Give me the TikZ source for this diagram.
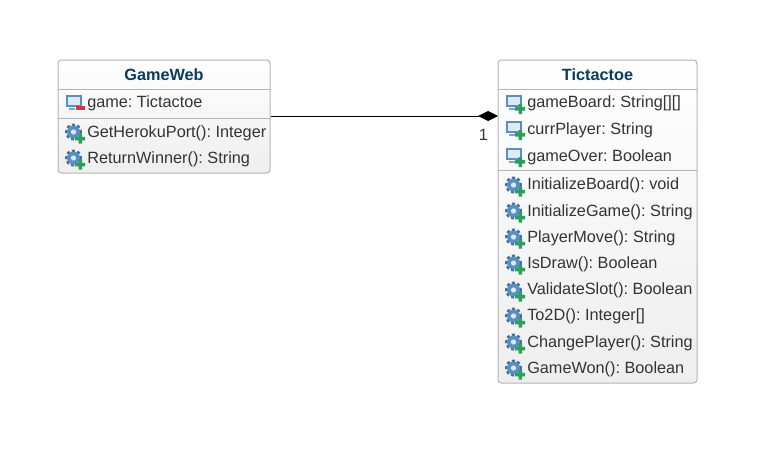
\documentclass[tikz,border=0pt]{standalone}
\usepackage{fontspec}
\setmainfont{Liberation Sans}
\frenchspacing
\usetikzlibrary{arrows.meta,positioning,calc}
\definecolor{Ink}{HTML}{333333}
\definecolor{Title}{HTML}{0A3C5F}
\definecolor{BoxLine}{HTML}{B4B4B4}
\definecolor{BoxEnd}{HTML}{EEEEEE}
\definecolor{IconBlue}{HTML}{5A8FC6}
\definecolor{IconPale}{HTML}{DCEBFA}
\definecolor{PlusGreen}{HTML}{2E9E5B}
\definecolor{MinusRed}{HTML}{D9333F}
\tikzset{
  classbox/.style={draw=BoxLine,line width=0.75pt,rounded corners=2.5pt,top color=white,bottom color=BoxEnd,minimum width=#1,inner sep=0pt},
  classname/.style={font=\fontsize{12.2}{14}\selectfont\bfseries,text=Title,inner sep=0pt},
  member/.style={anchor=west,font=\fontsize{12.2}{14}\selectfont,text=Ink,inner sep=0pt},
  divider/.style={draw=BoxLine,line width=0.6pt},
  pics/attrplus/.style={code={
    \draw[IconBlue,fill=IconPale,line width=1.1pt] (-7,-6) rectangle (7,4);
    \fill[IconBlue!80] (-5,5.5) rectangle (5,7.5);
    \fill[PlusGreen] (4.5,2) rectangle (8,12) (1.2,5.2) rectangle (11.2,8.7);
  }},
  pics/attrminus/.style={code={
    \draw[IconBlue,fill=IconPale,line width=1.1pt] (-7,-6) rectangle (7,4);
    \fill[IconBlue!80] (-5,5.5) rectangle (1,7.5);
    \fill[MinusRed] (2,4.2) rectangle (11,8.2);
  }},
  pics/opplus/.style={code={
    \draw[IconBlue!75!black,line width=2.2pt,dash pattern=on 2.2pt off 1.7pt] (-0.5,0) circle (7);
    \fill[IconBlue] (-0.5,0) circle (6.5);
    \fill[IconPale] (-0.5,0) circle (2.6);
    \fill[PlusGreen] (4.5,1.5) rectangle (8,11.5) (1.2,4.8) rectangle (11.2,8.3);
  }},
}
\begin{document}
\begin{tikzpicture}[x=0.75pt,y=-0.75pt]
\useasboundingbox (0,0) rectangle (764,468);
% classes
\node[classbox=159pt,minimum height=84.75pt,anchor=north west] (gameweb) at (57.5,59.5) {};
\node[classbox=149.25pt,minimum height=242.25pt,anchor=north west] (tictactoe) at (497.5,59.5) {};
\node[classname] (gamewebname) at (164,75) {GameWeb};
\node[classname] (tictactoename) at (597.5,75) {Tictactoe};
\draw[divider] (57.5,89) -- (269.5,89);
\draw[divider] (57.5,118) -- (269.5,118);
\draw[divider] (497.5,89) -- (696.5,89);
\draw[divider] (497.5,170) -- (696.5,170);
% GameWeb members
\pic at (74,102) {attrminus};
\node[member] (game) at (87,103) {game: Tictactoe};
\pic at (74,132) {opplus};
\node[member] (getherokuport) at (87,133) {GetHerokuPort(): Integer};
\pic at (74,158) {opplus};
\node[member] (returnwinner) at (87,159) {ReturnWinner(): String};
% Tictactoe members
\pic at (514,102) {attrplus};
\node[member] (gameboard) at (527,103) {gameBoard: String[][]};
\pic at (514,128) {attrplus};
\node[member] (currplayer) at (527,130) {currPlayer: String};
\pic at (514,155) {attrplus};
\node[member] (gameover) at (527,157) {gameOver: Boolean};
\pic at (514,185) {opplus};
\node[member] (initializeboard) at (527,185) {InitializeBoard(): void};
\pic at (514,211) {opplus};
\node[member] (initializegame) at (527,212) {InitializeGame(): String};
\pic at (514,237) {opplus};
\node[member] (playermove) at (527,238) {PlayerMove(): String};
\pic at (514,263) {opplus};
\node[member] (isdraw) at (527,264) {IsDraw(): Boolean};
\pic at (514,290) {opplus};
\node[member] (validateslot) at (527,290) {ValidateSlot(): Boolean};
\pic at (514,316) {opplus};
\node[member] (todd) at (527,316) {To2D(): Integer[]};
\pic at (514,342) {opplus};
\node[member] (changeplayer) at (527,343) {ChangePlayer(): String};
\pic at (514,368) {opplus};
\node[member] (gamewon) at (527,369) {GameWon(): Boolean};
% aggregation
\coordinate (wholeend) at (498,116);
\coordinate (partend) at (gameweb.east |- wholeend);
\draw[{Diamond[length=15pt,width=7.5pt]}-,black,line width=0.75pt] (wholeend) -- (partend);
\node[font=\fontsize{12.2}{14}\selectfont,text=Ink,inner sep=0pt] (multiplicity) at (483.5,135) {1};
\end{tikzpicture}
\end{document}
